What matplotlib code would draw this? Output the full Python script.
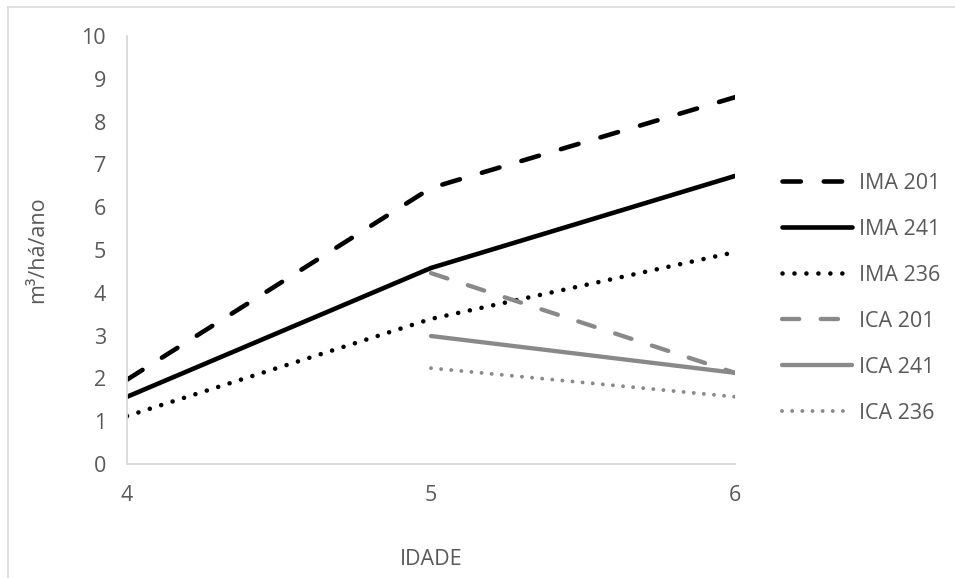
import matplotlib.pyplot as plt
from matplotlib.lines import Line2D

plt.rcParams['font.family'] = ['Open Sans', 'DejaVu Sans']

idade = [4, 5, 6]
idade_ica = [5, 6]
ima_201 = [1.97, 6.45, 8.57]
ima_241 = [1.57, 4.58, 6.73]
ima_236 = [1.12, 3.39, 4.95]
ica_201 = [4.46, 2.13]
ica_241 = [2.99, 2.13]
ica_236 = [2.24, 1.57]

black = '#000000'
gray = '#898989'
txt = '#595959'
dash = (0, (4, 5))
dot = (0, (0.01, 2.6))

fig = plt.figure(figsize=(9.55, 5.78), dpi=100)
ax = fig.add_axes([127 / 955, 114 / 578, 608 / 955, 428 / 578])

kw = dict(solid_capstyle='round', dash_capstyle='round')
ax.plot(idade, ima_201, color=black, lw=3.3, linestyle=dash, label='IMA 201', **kw)
ax.plot(idade, ima_241, color=black, lw=3.3, linestyle='-', label='IMA 241', **kw)
ax.plot(idade, ima_236, color=black, lw=3.3, linestyle=dot, label='IMA 236', **kw)
ax.plot(idade_ica, ica_201, color=gray, lw=3.1, linestyle=dash, label='ICA 201', **kw)
ax.plot(idade_ica, ica_241, color=gray, lw=3.1, linestyle='-', label='ICA 241', **kw)
ax.plot(idade_ica, ica_236, color=gray, lw=2.8, linestyle=dot, label='ICA 236', **kw)

ax.set_xlim(4, 6)
ax.set_ylim(0, 10)
ax.set_xticks(idade)
ax.set_yticks(range(0, 11))
ax.tick_params(length=0, labelsize=15.5, colors=txt, pad=15)
for s in ['top', 'right']:
    ax.spines[s].set_visible(False)
for s in ['left', 'bottom']:
    ax.spines[s].set_color('#d9d9d9')
    ax.spines[s].set_linewidth(1.3)

ax.set_xlabel('IDADE', fontsize=15.5, color=txt, labelpad=31)
ax.set_ylabel('m³/há/ano', fontsize=15.5, color=txt, labelpad=24)

leg = ax.legend(loc='upper left', bbox_to_anchor=(782 / 955, 1 - 173 / 578),
                bbox_transform=fig.transFigure, frameon=False, fontsize=15.5,
                handlelength=3.25, handletextpad=0.33, labelspacing=1.16,
                borderpad=0, borderaxespad=0)
for t in leg.get_texts():
    t.set_color(txt)

# chart area border (left and top only visible)
fig.add_artist(Line2D([8 / 955, 8 / 955], [0, 1 - 7 / 578], transform=fig.transFigure,
                      color='#d9d9d9', lw=1.2))
fig.add_artist(Line2D([8 / 955, 1], [1 - 7 / 578, 1 - 7 / 578], transform=fig.transFigure,
                      color='#d9d9d9', lw=1.2))

fig.savefig('out.png', dpi=100)
